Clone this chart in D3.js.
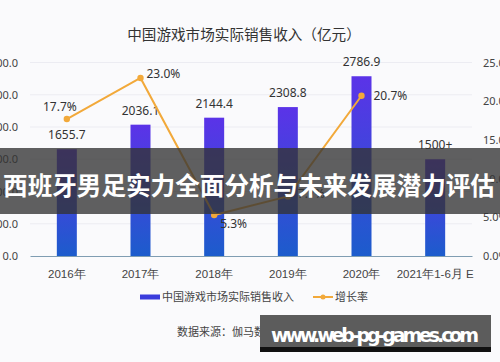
<!DOCTYPE html>
<html><head><meta charset="utf-8">
<script src="https://cdn.jsdelivr.net/npm/d3@7"></script>
<style>
html,body{margin:0;padding:0;background:#fafafc;}
svg{display:block;font-family:"Noto Sans CJK SC","Noto Sans",sans-serif;}
</style></head>
<body><svg id="c" width="500" height="362"></svg>
<script>
const categories = ["2016年","2017年","2018年","2019年","2020年","2021年1-6月 E"];
const revenue = [1655.7, 2036.1, 2144.4, 2308.8, 2786.9, 1500];
const revenueLabels = ["1655.7","2036.1","2144.4","2308.8","2786.9","1500+"];
const growth = [17.7, 23.0, 5.3, 7.7, 20.7, null];
const leftTicks = [0,500,1000,1500,2000,2500,3000];
const rightTicks = [0,5,10,15,20,25];
// label placement of the growth labels relative to point: [dx, dy, anchor]
const growthLabelPlace = [[-7,-8,"middle"],[6,0,"start"],[6,13,"start"],[10,2,"start"],[12,4,"start"],null];

const W=500,H=362;
const svg=d3.select("#c");
svg.append("rect").attr("width",W).attr("height",H).attr("fill","#fafafc");

const x=d3.scaleBand().domain(categories).range([30,472]).paddingInner(0).paddingOuter(0);
const yL=d3.scaleLinear().domain([0,3000]).range([256,62.5]);
const yR=d3.scaleLinear().domain([0,25]).range([256,62.5]);

const defs=svg.append("defs");
const g=defs.append("linearGradient").attr("id","barG").attr("x1",0).attr("y1",0).attr("x2",0).attr("y2",1);
g.append("stop").attr("offset","0%").attr("stop-color","#5b33e8");
g.append("stop").attr("offset","100%").attr("stop-color","#1c5ccc");

// title
svg.append("text").attr("x",244).attr("y",40).attr("text-anchor","middle")
  .attr("font-size",14.6).attr("fill","#333").text("中国游戏市场实际销售收入（亿元）");

// gridlines
svg.append("g").selectAll("line").data(leftTicks.slice(1)).join("line")
  .attr("x1",30).attr("x2",472).attr("y1",d=>yL(d)).attr("y2",d=>yL(d))
  .attr("stroke","#ececf2").attr("stroke-width",1);

// left axis
const axL=svg.append("g").attr("transform","translate(26,0)")
  .call(d3.axisLeft(yL).tickValues(leftTicks).tickFormat(d3.format(".1f")).tickSize(0).tickPadding(8));
axL.select(".domain").remove();
axL.selectAll("text").attr("font-size",11).attr("fill","#444").attr("font-family","'Noto Sans',sans-serif");

// right axis
const axR=svg.append("g").attr("transform","translate(475,0)")
  .call(d3.axisRight(yR).tickValues(rightTicks).tickFormat(d=>d3.format(".1f")(d)+"%").tickSize(0).tickPadding(8));
axR.select(".domain").remove();
axR.selectAll("text").attr("font-size",11).attr("fill","#444").attr("font-family","'Noto Sans',sans-serif");

// bars
const bw=20;
svg.append("g").selectAll("rect").data(revenue).join("rect")
  .attr("x",(d,i)=>x(categories[i])+x.bandwidth()/2-bw/2)
  .attr("y",d=>yL(d)).attr("width",bw).attr("height",d=>yL(0)-yL(d))
  .attr("fill","url(#barG)");

// bar labels
svg.append("g").selectAll("text").data(revenue).join("text")
  .attr("x",(d,i)=>x(categories[i])+x.bandwidth()/2)
  .attr("y",d=>yL(d)-10).attr("text-anchor","middle")
  .attr("font-size",12).attr("fill","#333").attr("font-family","'Noto Sans',sans-serif")
  .text((d,i)=>revenueLabels[i]);

// x axis
const axX=svg.append("g").attr("transform","translate(0,256)")
  .call(d3.axisBottom(x).tickSize(0).tickPadding(14));
axX.select(".domain").attr("stroke","#7f9db2").attr("stroke-width",1.2);
axX.selectAll("text").attr("font-size",11.5).attr("fill","#444");

// growth line
const pts=growth.map((v,i)=>({v,i})).filter(p=>p.v!=null);
const line=d3.line().x(p=>x(categories[p.i])+x.bandwidth()/2).y(p=>yR(p.v));
svg.append("path").datum(pts).attr("d",line).attr("fill","none")
  .attr("stroke","#f2a93a").attr("stroke-width",2);
svg.append("g").selectAll("circle").data(pts).join("circle")
  .attr("cx",p=>x(categories[p.i])+x.bandwidth()/2).attr("cy",p=>yR(p.v)).attr("r",3.2)
  .attr("fill","#f2a93a");
svg.append("g").selectAll("text").data(pts).join("text")
  .attr("x",p=>x(categories[p.i])+x.bandwidth()/2+growthLabelPlace[p.i][0])
  .attr("y",p=>yR(p.v)+growthLabelPlace[p.i][1])
  .attr("text-anchor",p=>growthLabelPlace[p.i][2])
  .attr("font-size",12).attr("fill","#333").attr("font-family","'Noto Sans',sans-serif")
  .text(p=>d3.format(".1f")(p.v)+"%");

// legend
const lg=svg.append("g");
lg.append("rect").attr("x",140).attr("y",294.5).attr("width",20).attr("height",5).attr("fill","#3a3cdc");
lg.append("text").attr("x",162).attr("y",301).attr("font-size",11).attr("fill","#444").text("中国游戏市场实际销售收入");
lg.append("line").attr("x1",313).attr("x2",333).attr("y1",297).attr("y2",297).attr("stroke","#f2a93a").attr("stroke-width",2);
lg.append("circle").attr("cx",323).attr("cy",297).attr("r",2.5).attr("fill","#f2a93a");
lg.append("text").attr("x",335).attr("y",301).attr("font-size",11).attr("fill","#444").text("增长率");

// source
svg.append("text").attr("x",177).attr("y",336).attr("font-size",11).attr("fill","#444").text("数据来源：伽马数据（CNG）");

// banner overlay
svg.append("rect").attr("x",0).attr("y",148).attr("width",W).attr("height",66).attr("fill","#333").attr("opacity",0.78);
svg.append("text").attr("x",249).attr("y",195).attr("text-anchor","middle")
  .attr("font-size",24.6).attr("font-weight",700).attr("fill","#fff").text("西班牙男足实力全面分析与未来发展潜力评估");

// site watermark
svg.append("rect").attr("x",260).attr("y",315).attr("width",231).attr("height",37).attr("fill","#5c5c5c");
svg.append("rect").attr("x",260).attr("y",347).attr("width",231).attr("height",5).attr("fill","#111");
svg.append("text").attr("x",375).attr("y",342).attr("text-anchor","middle")
  .attr("font-size",19).attr("font-weight",700).attr("fill","#fff")
  .attr("font-family","'DejaVu Sans','Noto Sans',sans-serif").attr("textLength",208).text("www.web-pg-games.com");
</script></body></html>
